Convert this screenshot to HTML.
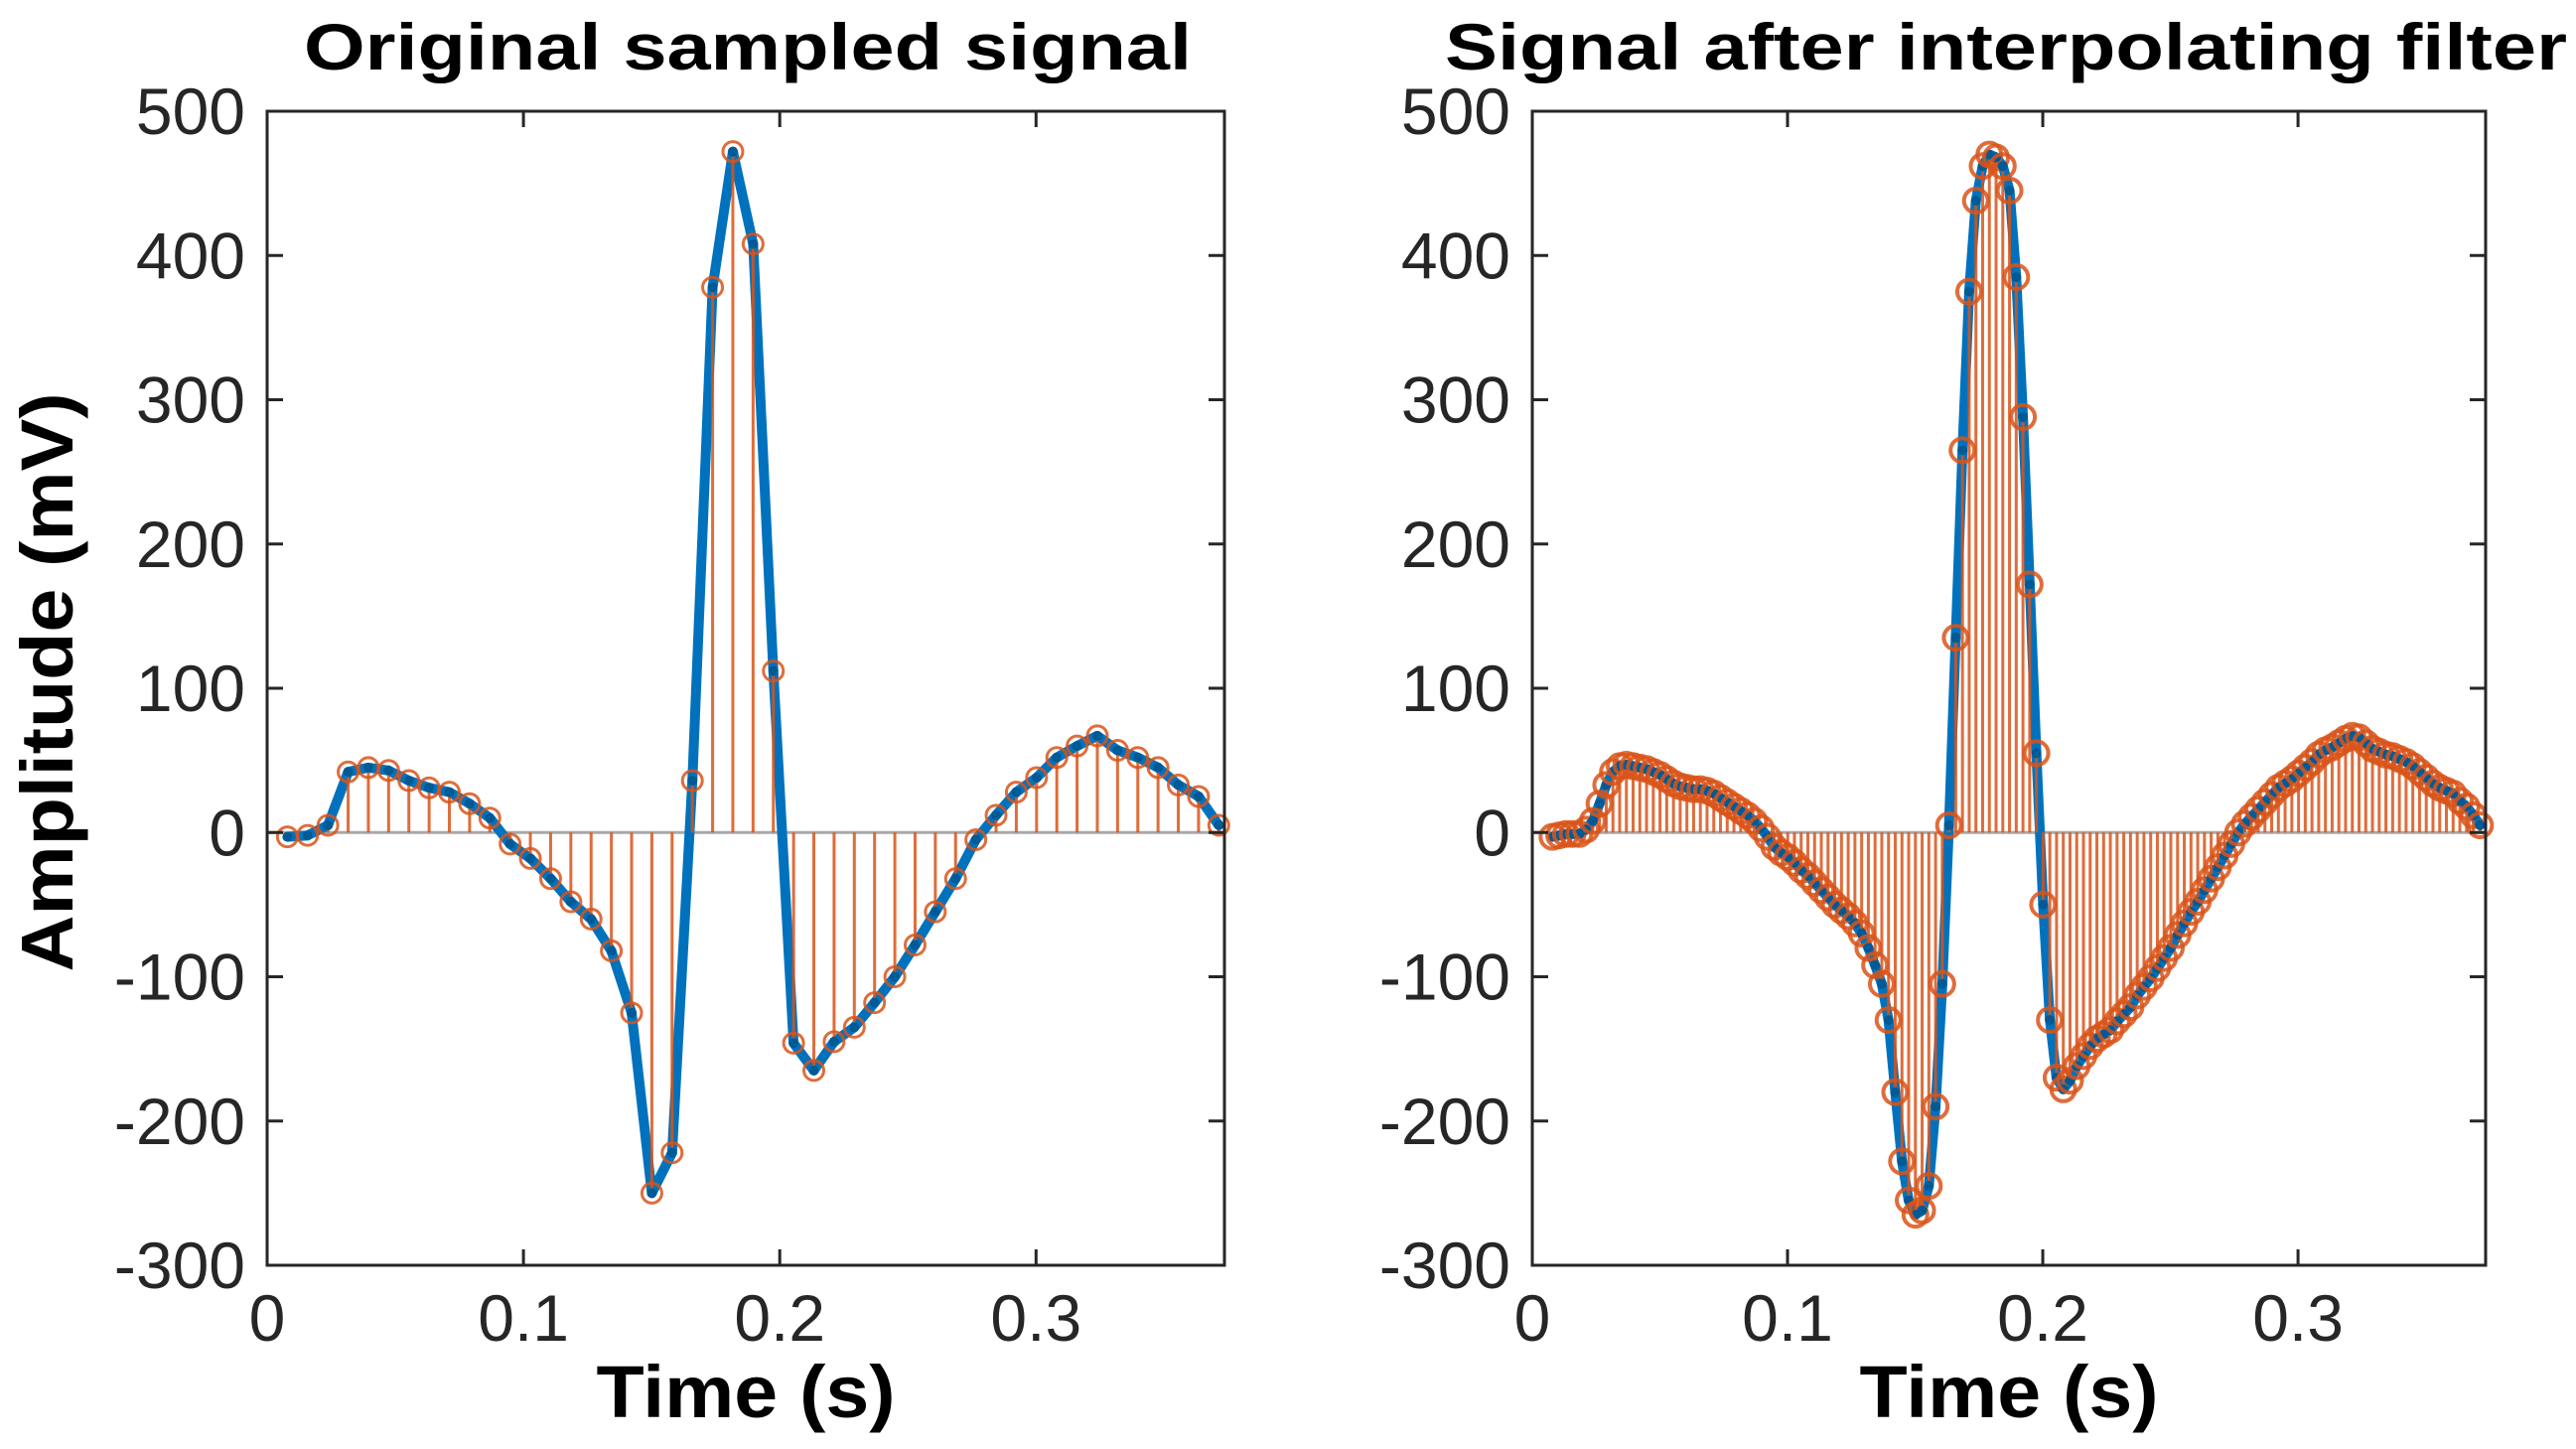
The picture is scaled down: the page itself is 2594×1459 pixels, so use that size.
<!DOCTYPE html>
<html><head><meta charset="utf-8"><style>
html,body{margin:0;padding:0;background:#fff;}
svg{display:block;}
text{font-family:"Liberation Sans",Arial,sans-serif;fill:#262626;}
.tk{font-size:66px;}
.bold{font-weight:bold;fill:#000;}
</style></head><body>
<svg id="fig" width="2594" height="1459" viewBox="0 0 2594 1459" xmlns="http://www.w3.org/2000/svg"></svg>
<script>
const sampleStep = 0.0079;
const origValues = [-3,-2,5,42,45,43,36,31,28,20,10,-8,-18,-32,-48,-60,-82,-125,-250,-222,36,378,472,408,112,-146,-165,-145,-135,-118,-100,-78,-55,-32,-5,12,28,38,52,60,67,57,52,45,33,25,5];
const interpStep = 0.0079/3;
const interpValues = [
-3,-2,-1, -1,-1,2, 8,20,33, 42,46,47, 46,45,44, 42,40,37, 34,32,31, 30,30,29, 27,24,21, 18,15,12,
8,3,-3, -10,-14,-17, -21,-26,-30, -35,-40,-45, -50,-54,-58, -63,-70,-80, -92,-105,-130, -180,-228,-255,
-265,-262,-245, -190,-105,5, 135,265,375, 438,462,470, 468,462,445, 385,288,172, 55,-50,-130,
-170,-178,-172, -162,-155,-148, -143,-140,-137, -131,-126,-121, -113,-107,-101, -94,-87,-80,
-71,-63,-55, -48,-40,-32, -24,-16,-8, 0,6,11, 16,21,26, 31,34,37, 41,45,49, 54,57,59, 62,65,67,
66,62,58, 56,54,53, 51,49,46, 42,38,34, 31,29,27, 22,18,12, 5];
const yTicks = [500,400,300,200,100,0,-100,-200,-300];
const yTickLabels = ["500","400","300","200","100","0","-100","-200","-300"];
const xTicks = [0,0.1,0.2,0.3];
const xTickLabels = ["0","0.1","0.2","0.3"];
const titles = ["Original sampled signal","Signal after interpolating filter"];

const NS="http://www.w3.org/2000/svg";
const svg=document.getElementById('fig');
function mk(tag,attrs,parent){const e=document.createElementNS(NS,tag);for(const k in attrs)e.setAttribute(k,attrs[k]);(parent||svg).appendChild(e);return e;}

const TOP=112,BOT=1274,XMAX=0.3735,YMIN=-300,YMAX=500;
function drawPanel(L,R,values,t0,step,title,name,showY,titleX,titleLen,mr,mw){
  const g=mk('g',{});
  
  
  const sx=t=>L+(t/XMAX)*(R-L);
  const sy=v=>BOT-(v-YMIN)/(YMAX-YMIN)*(BOT-TOP);
  const tx=i=>t0+i*step;
  const bl=mk('line',{x1:L,x2:R,y1:sy(0),y2:sy(0),stroke:'#a8a8a8','stroke-width':3},g);
  
  
  let d='';values.forEach((v,i)=>{d+=(i?'L':'M')+sx(tx(i)).toFixed(1)+','+sy(v).toFixed(1);});
  const ln=mk('path',{d:d,fill:'none',stroke:'#0072BD','stroke-width':10,'stroke-linejoin':'round'},g);
  
  
  values.forEach((v,i)=>{
    const x=sx(tx(i));
    const s=mk('line',{x1:x,x2:x,y1:sy(0),y2:sy(v),stroke:'#D95319','stroke-width':3,'stroke-opacity':0.85},g);
    
    
  });
  values.forEach((v,i)=>{
    const x=sx(tx(i));
    const dot=mk('circle',{cx:x,cy:sy(v),r:5,fill:'#005a96'},g);
    
    
    const c=mk('circle',{cx:x,cy:sy(v),r:mr,fill:'none',stroke:'#D95319','stroke-width':mw,'stroke-opacity':0.85},g);
    
    
  });
  const box=mk('rect',{x:L,y:TOP,width:R-L,height:BOT-TOP,fill:'none',stroke:'#262626','stroke-width':3},g);
  
  
  yTicks.forEach((v,i)=>{
    const y=sy(v);
    mk('line',{x1:L,x2:L+16,y1:y,y2:y,stroke:'#262626','stroke-width':3},g);
    mk('line',{x1:R,x2:R-16,y1:y,y2:y,stroke:'#262626','stroke-width':3},g);
    const t=mk('text',{x:L-22,y:y+23,'text-anchor':'end',class:'tk'},g);
    t.textContent=yTickLabels[i];
    
    
  });
  xTicks.forEach((v,i)=>{
    const x=sx(v);
    mk('line',{x1:x,x2:x,y1:BOT,y2:BOT-16,stroke:'#262626','stroke-width':3},g);
    mk('line',{x1:x,x2:x,y1:TOP,y2:TOP+16,stroke:'#262626','stroke-width':3},g);
    const t=mk('text',{x:x,y:1350,'text-anchor':'middle',class:'tk'},g);
    t.textContent=xTickLabels[i];
    
    
  });
  const tt=mk('text',{x:titleX,y:70,'text-anchor':'middle',class:'bold','font-size':66,textLength:titleLen,lengthAdjust:'spacingAndGlyphs'},g);
  tt.textContent=title;
  
  
  const xl=mk('text',{x:(L+R)/2,y:1427,'text-anchor':'middle',class:'bold','font-size':74,textLength:301,lengthAdjust:'spacingAndGlyphs'},g);
  xl.textContent='Time (s)';
  
  
  if(showY){
    const yl=mk('text',{x:0,y:0,'text-anchor':'middle',class:'bold','font-size':74,textLength:583,lengthAdjust:'spacingAndGlyphs',transform:'translate(73,687) rotate(-90)'},g);
    yl.textContent='Amplitude (mV)';
    
    
  }
}
drawPanel(269,1233,origValues,sampleStep,sampleStep,titles[0],'original-signal-panel',true,753,894,10,3);
drawPanel(1543,2503,interpValues,sampleStep,interpStep,titles[1],'interpolated-signal-panel',false,2020,1130,12,4);
</script>
</body></html>
